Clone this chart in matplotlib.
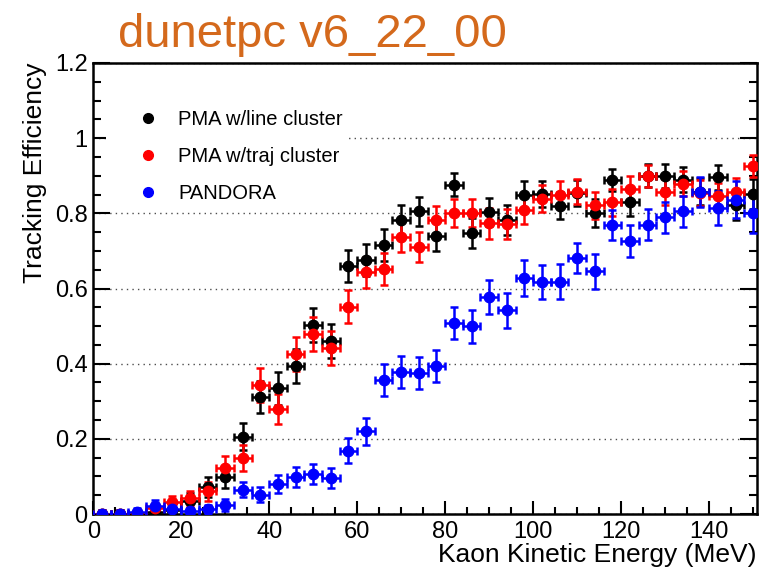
import matplotlib
matplotlib.use("Agg")
import matplotlib.pyplot as plt
from matplotlib.lines import Line2D
from matplotlib.ticker import MultipleLocator, FormatStrFormatter

plt.rcParams['font.family'] = ['Liberation Sans', 'DejaVu Sans']

# bin centres (MeV), bins are 4 MeV wide
energy = [2, 6, 10, 14, 18, 22, 26, 30, 34, 38,
          42, 46, 50, 54, 58, 62, 66, 70, 74, 78,
          82, 86, 90, 94, 98, 102, 106, 110, 114, 118,
          122, 126, 130, 134, 138, 142, 146, 150]
half_bin = 2

pma_line = [0.0, 0.0, 0.0, 0.005, 0.012, 0.035, 0.071, 0.099, 0.206, 0.312,
            0.334, 0.394, 0.504, 0.461, 0.660, 0.676, 0.715, 0.783, 0.805, 0.741,
            0.876, 0.748, 0.803, 0.783, 0.850, 0.852, 0.820, 0.854, 0.801, 0.889,
            0.829, 0.900, 0.900, 0.890, 0.858, 0.896, 0.823, 0.852]
pma_line_err = [0.01, 0.01, 0.01, 0.012, 0.015, 0.02, 0.027, 0.03, 0.036, 0.042,
                0.044, 0.045, 0.045, 0.045, 0.042, 0.042, 0.042, 0.04, 0.038, 0.042,
                0.03, 0.04, 0.038, 0.04, 0.035, 0.035, 0.036, 0.034, 0.038, 0.03,
                0.037, 0.03, 0.032, 0.032, 0.036, 0.033, 0.04, 0.04]

pma_traj = [0.0, 0.0, 0.0, 0.015, 0.031, 0.042, 0.060, 0.122, 0.149, 0.344,
            0.280, 0.426, 0.478, 0.441, 0.552, 0.643, 0.652, 0.736, 0.711, 0.781,
            0.801, 0.801, 0.773, 0.772, 0.808, 0.839, 0.850, 0.858, 0.821, 0.829,
            0.865, 0.899, 0.857, 0.879, 0.855, 0.845, 0.858, 0.925]
pma_traj_err = [0.01, 0.01, 0.01, 0.014, 0.018, 0.02, 0.025, 0.032, 0.034, 0.045,
                0.04, 0.045, 0.045, 0.045, 0.044, 0.042, 0.042, 0.04, 0.04, 0.038,
                0.037, 0.038, 0.04, 0.04, 0.037, 0.036, 0.035, 0.034, 0.037, 0.036,
                0.034, 0.03, 0.035, 0.033, 0.035, 0.036, 0.035, 0.029]

pandora = [0.0, 0.0, 0.005, 0.022, 0.013, 0.007, 0.013, 0.025, 0.064, 0.051,
           0.080, 0.098, 0.106, 0.096, 0.168, 0.220, 0.356, 0.378, 0.375, 0.394,
           0.509, 0.499, 0.577, 0.542, 0.628, 0.617, 0.618, 0.680, 0.646, 0.768,
           0.726, 0.770, 0.789, 0.805, 0.857, 0.814, 0.836, 0.802]
pandora_err = [0.012, 0.01, 0.01, 0.014, 0.012, 0.01, 0.012, 0.016, 0.02, 0.02,
               0.024, 0.026, 0.027, 0.026, 0.033, 0.036, 0.042, 0.043, 0.043, 0.043,
               0.043, 0.045, 0.045, 0.046, 0.048, 0.046, 0.046, 0.04, 0.046, 0.04,
               0.042, 0.042, 0.042, 0.041, 0.039, 0.045, 0.049, 0.053]

series = [("PMA w/line cluster", pma_line, pma_line_err, "black"),
          ("PMA w/traj cluster", pma_traj, pma_traj_err, "#ff0000"),
          ("PANDORA", pandora, pandora_err, "#0000ff")]

fig = plt.figure(figsize=(7.67, 5.70), dpi=100)
ax = fig.add_axes([0.1216, 0.0982, 0.865, 0.7913])

for label, vals, errs, col in series:
    ax.errorbar(energy, vals, yerr=errs, xerr=half_bin, fmt='o', color=col,
                markersize=7.5, elinewidth=1.8, capsize=3, capthick=1.8, zorder=3)

ax.set_xlim(0, 150.8)
ax.set_ylim(0, 1.2)
ax.xaxis.set_major_locator(MultipleLocator(20))
ax.xaxis.set_minor_locator(MultipleLocator(5))
ax.yaxis.set_major_locator(MultipleLocator(0.2))
ax.yaxis.set_minor_locator(MultipleLocator(0.05))
ax.yaxis.set_major_formatter(FormatStrFormatter('%g'))
ax.tick_params(which='both', direction='in', right=True, top=False, width=1.5,
               labelsize=17, colors='black')
ax.tick_params(axis='y', which='major', length=12, pad=4)
ax.tick_params(axis='y', which='minor', length=6)
ax.tick_params(axis='x', which='major', length=9.5, pad=5)
ax.tick_params(axis='x', which='minor', length=5)
for sp in ax.spines.values():
    sp.set_linewidth(1.8)

ax.yaxis.grid(True, which='major', linestyle=(0, (1, 3)), color='0.3', linewidth=1)
ax.set_axisbelow(True)

ax.set_xlabel("Kaon Kinetic Energy (MeV)", loc='right', fontsize=19, labelpad=0)
ax.set_ylabel("Tracking Efficiency", loc='top', fontsize=19, labelpad=6)

handles = [Line2D([], [], marker='o', ls='none', color=c, markersize=7)
           for _, _, _, c in series]
leg = ax.legend(handles, [s[0] for s in series], loc='upper left',
                bbox_to_anchor=(0.004, 0.932), fontsize=14.5, frameon=True,
                facecolor='white', edgecolor='none', framealpha=1,
                handlelength=3.6, handletextpad=-0.3, labelspacing=0.9,
                borderpad=0.3)
leg.set_zorder(2)

fig.text(0.154, 0.918, "dunetpc v6_22_00", color='#d4691c', fontsize=34,
         ha='left', va='baseline')

fig.savefig("out.png", dpi=100)
